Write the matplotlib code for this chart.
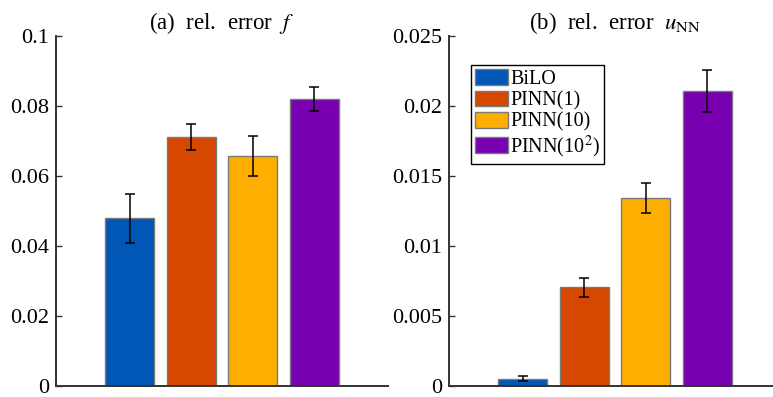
import numpy as np
import matplotlib
matplotlib.use('Agg')
from matplotlib import pyplot as plt

plt.rcParams['font.family'] = ['Liberation Serif', 'DejaVu Serif']
plt.rcParams['mathtext.fontset'] = 'stix'

methods = ['BiLO', 'PINN(1)', 'PINN(10)', r'PINN(10$^2$)']
colors = ['#0057B5', '#D64800', '#FDAE00', '#7800B0']

# mean and spread of the relative errors
err_f = [0.0479, 0.0711, 0.0657, 0.0820]
err_f_sd = [0.0070, 0.0037, 0.0057, 0.0035]
err_u = [0.00052, 0.00705, 0.01345, 0.02107]
err_u_sd = [0.00017, 0.00066, 0.00108, 0.00152]

titles = [r'(a)  rel.  error  $f$', r'(b)  rel.  error  $u_{\mathrm{NN}}$']
yticks_f = [0, 0.02, 0.04, 0.06, 0.08, 0.1]
ylabels_f = ['0', '0.02', '0.04', '0.06', '0.08', '0.1']
yticks_u = [0, 0.005, 0.01, 0.015, 0.02, 0.025]
ylabels_u = ['0', '0.005', '0.01', '0.015', '0.02', '0.025']

fig = plt.figure(figsize=(7.73, 3.97), dpi=100)
ax1 = fig.add_axes([0.0724, 0.0277, 0.4295, 0.8816])
ax2 = fig.add_axes([0.5809, 0.0277, 0.4295, 0.8816])

x = np.arange(1, 5)
for ax, vals, sd, title, yt, yl in ((ax1, err_f, err_f_sd, titles[0], yticks_f, ylabels_f),
                                    (ax2, err_u, err_u_sd, titles[1], yticks_u, ylabels_u)):
    bars = ax.bar(x, vals, width=0.8, color=colors, edgecolor='#7a7a7a', linewidth=1.0,
                  label=methods, zorder=2)
    ax.errorbar(x, vals, yerr=sd, fmt='none', ecolor='black', elinewidth=1.1,
                capsize=3.5, capthick=1.1, zorder=3)
    ax.set_xlim(-0.2, 5.2)
    ax.set_ylim(yt[0], yt[-1])
    ax.set_yticks(yt)
    ax.set_yticklabels(yl, fontfamily=['Liberation Serif'])
    ax.set_xticks([])
    ax.tick_params(axis='y', direction='in', length=4, width=1.0, color='#333333',
                   labelsize=16, pad=5)
    for s in ('top', 'right'):
        ax.spines[s].set_visible(False)
    for s in ('left', 'bottom'):
        ax.spines[s].set_linewidth(1.4)
        ax.spines[s].set_color('#333333')
    ax.set_title(title, fontsize=16.5, pad=5)

leg = ax2.legend(handles=bars.patches, labels=methods, loc='upper left',
                 bbox_to_anchor=(0.066, 0.917), borderaxespad=0, fontsize=14.5,
                 fancybox=False, edgecolor='black', framealpha=1,
                 handlelength=1.65, handleheight=0.82, handletextpad=0.1,
                 labelspacing=0.08, borderpad=0.2)
leg.get_frame().set_linewidth(1.0)

fig.savefig('out.png', dpi=100)
